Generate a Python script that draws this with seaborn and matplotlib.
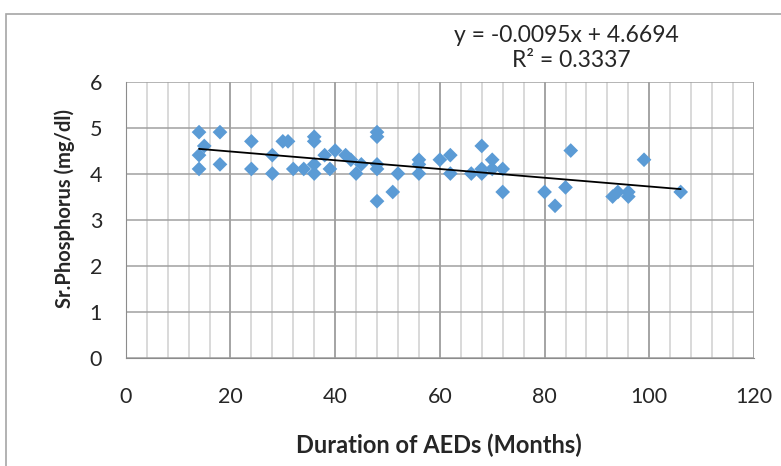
import numpy as np
import pandas as pd
import matplotlib
matplotlib.use("Agg")
import matplotlib.pyplot as plt
from matplotlib.patches import Rectangle
import seaborn as sns

# data
months = [14, 14, 14, 15, 18, 18, 24, 24, 28, 28, 30, 31, 32, 34,
          36, 36, 36, 36, 38, 39, 40, 42, 43, 44, 45,
          48, 48, 48, 48, 48, 51, 52, 56, 56, 56, 60, 62, 62, 66,
          68, 68, 68, 70, 70, 72, 72, 80, 82, 84, 85, 93, 94, 96, 96, 99, 106]
phosphorus = [4.9, 4.4, 4.1, 4.6, 4.9, 4.2, 4.7, 4.1, 4.4, 4.0, 4.7, 4.7, 4.1, 4.1,
              4.8, 4.7, 4.2, 4.0, 4.4, 4.1, 4.5, 4.4, 4.3, 4.0, 4.2,
              4.9, 4.8, 4.2, 4.1, 3.4, 3.6, 4.0, 4.3, 4.2, 4.0, 4.3, 4.4, 4.0, 4.0,
              4.6, 4.1, 4.0, 4.3, 4.1, 4.1, 3.6, 3.6, 3.3, 3.7, 4.5, 3.5, 3.6, 3.6, 3.5, 4.3, 3.6]

# trendline shown on chart
slope = -0.0095
intercept = 4.6694
r2 = 0.3337

df = pd.DataFrame({"months": months, "phos": phosphorus})

sns.set_style("white")
plt.rcParams['font.family'] = ['Lato', 'DejaVu Sans']

fig = plt.figure(figsize=(7.81, 4.66), dpi=100)
ax = fig.add_axes([0.161, 0.2324, 0.8044, 0.5927])

# chart border
fig.patches.append(Rectangle((6 / 781, -0.1), 1.2, 1.1 - 14 / 466, transform=fig.transFigure,
                             fill=False, edgecolor="#a6a6a6", linewidth=1.2))

sns.scatterplot(data=df, x="months", y="phos", marker="D", s=56, color="#5b9bd5",
                edgecolor="none", ax=ax, zorder=3)

xs = np.array([min(months), max(months)])
ax.plot(xs, slope * xs + intercept, color="black", linewidth=1.3, zorder=4)

ax.set_xlim(0, 120)
ax.set_ylim(0, 6)
ax.set_xticks(np.arange(0, 121, 20))
ax.set_xticks(np.arange(0, 121, 4), minor=True)
ax.set_yticks(np.arange(0, 7, 1))
ax.grid(which="major", axis="y", color="#a0a0a0", linewidth=1.1)
ax.grid(which="major", axis="x", color="#8c8c8c", linewidth=1.1)
ax.grid(which="minor", axis="x", color="#cfcfcf", linewidth=1.1)
ax.set_axisbelow(True)
for s in ["top", "right"]:
    ax.spines[s].set_visible(False)
ax.spines["left"].set_color("#8c8c8c")
ax.spines["bottom"].set_color("#8c8c8c")
ax.tick_params(axis="both", which="major", direction="out", length=6, width=1.1,
               color="#8c8c8c", labelsize=15.5, pad=11)
ax.tick_params(axis="x", which="minor", length=0)
ax.tick_params(axis="x", which="major", pad=15)

ax.set_xlabel("Duration of AEDs (Months)", fontsize=17, fontweight="bold")
ax.set_ylabel("Sr.Phosphorus (mg/dl)", fontsize=14.5, fontweight="bold")
ax.xaxis.set_label_coords(0.498, -0.275)
ax.yaxis.set_label_coords(-0.081, 0.54)

fig.text(0.7247, 0.9092, f"y = {slope}x + {intercept}", ha="center", va="baseline", fontsize=16.5)
fig.text(0.7309, 0.8569, f"R² = {r2}", ha="center", va="baseline", fontsize=16.5)

fig.savefig("out.png", dpi=100)
